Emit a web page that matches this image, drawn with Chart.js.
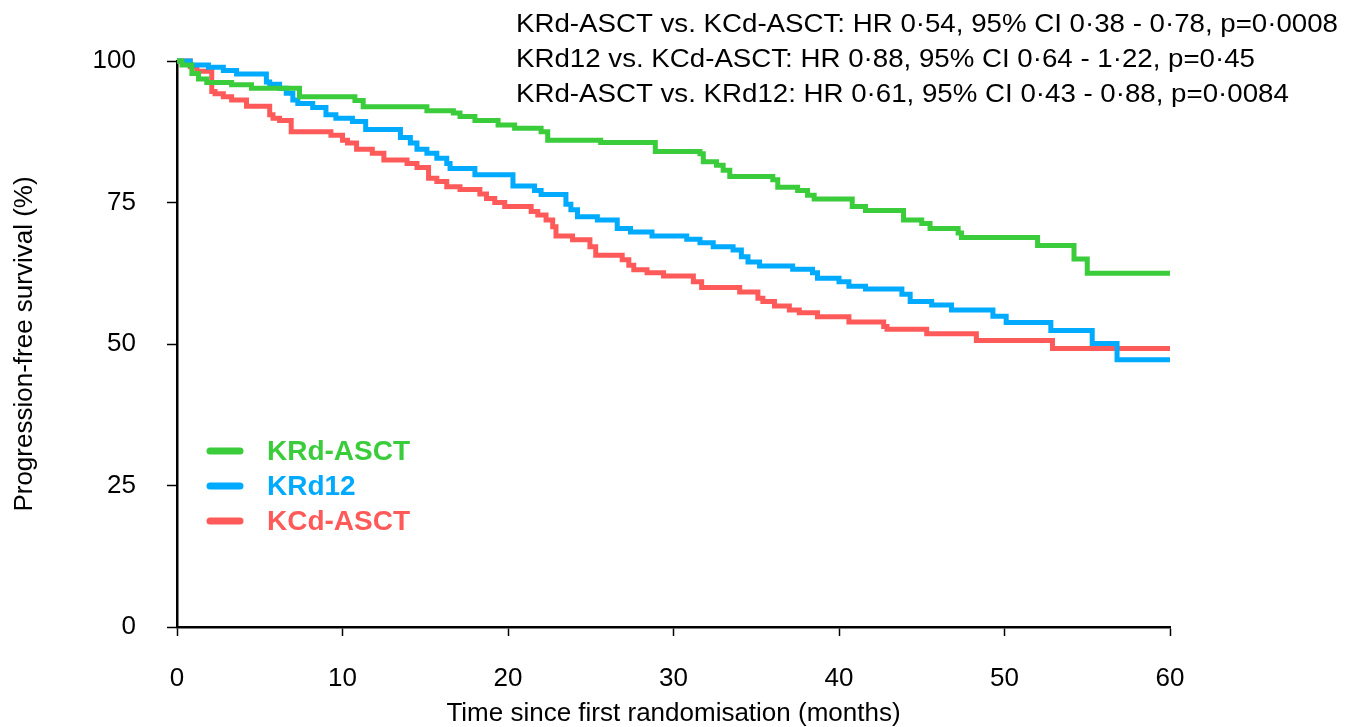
<!DOCTYPE html>
<html>
<head>
<meta charset="utf-8">
<script src="https://cdn.jsdelivr.net/npm/chart.js@4/dist/chart.umd.min.js"></script>
<style>
  html, body { margin: 0; padding: 0; background: #fff; }
  #wrap { width: 1348px; height: 727px; position: relative; }
</style>
</head>
<body>
<div id="wrap"><canvas id="chart-pfs"></canvas></div>
<script>
/* Kaplan-Meier PFS */
const krdAsctMonths = [0, 0.3, 0.9, 1.3, 1.8, 3.3, 4.5, 7.4, 10.75, 11.25, 15.1, 16.7, 17.1, 18.0, 19.4, 20.4, 22.0, 22.4, 25.6, 28.9, 31.6, 31.8, 32.6, 33.0, 33.4, 36.0, 36.3, 37.5, 38.1, 38.5, 40.8, 41.6, 43.9, 45.0, 45.5, 47.2, 47.4, 52.0, 54.2, 55.0, 60];
const krdAsctPfs    = [100, 99.3, 97.8, 96.8, 96.2, 95.8, 95.2, 93.7, 93.0, 91.9, 91.2, 90.8, 90.2, 89.5, 88.7, 88.1, 87.5, 86.0, 85.6, 84.0, 83.6, 82.2, 81.6, 80.7, 79.6, 79.0, 77.7, 77.1, 76.3, 75.6, 74.3, 73.6, 71.9, 71.3, 70.4, 69.6, 68.8, 67.4, 65.0, 62.5, 62.5];

const krd12Months = [0, 0.8, 1.9, 2.8, 3.6, 5.4, 5.6, 6.2, 6.6, 7.0, 7.3, 8.2, 9.0, 9.6, 10.6, 11.4, 13.5, 14.1, 14.5, 15.1, 15.7, 16.3, 16.5, 18.0, 20.3, 21.6, 22.0, 23.5, 23.8, 24.2, 25.4, 26.6, 27.4, 28.7, 30.8, 31.6, 32.4, 33.6, 34.1, 34.5, 35.2, 37.2, 38.4, 38.7, 40.0, 40.6, 41.6, 43.8, 44.3, 45.6, 46.8, 49.3, 50.1, 52.8, 55.3, 56.8, 60];
const krd12Pfs    = [100, 99.3, 98.9, 98.3, 97.7, 96.3, 95.9, 95.2, 94.3, 93.1, 92.5, 91.8, 90.5, 89.9, 89.3, 87.9, 86.5, 85.5, 84.4, 83.7, 82.8, 81.9, 81.0, 79.9, 77.9, 77.1, 76.4, 74.7, 73.7, 72.5, 71.9, 70.4, 69.8, 69.1, 68.5, 67.9, 67.2, 66.6, 65.4, 64.5, 63.8, 63.2, 62.6, 61.6, 61.0, 60.2, 59.7, 58.8, 57.5, 56.9, 56.0, 54.9, 53.8, 52.4, 50.1, 47.2, 47.2];

const kcdAsctMonths = [0, 0.8, 1.2, 2.1, 2.3, 2.8, 3.3, 4.2, 5.6, 5.8, 6.2, 6.9, 9.3, 10.0, 10.3, 10.85, 11.8, 12.5, 13.9, 14.5, 15.2, 15.7, 16.3, 17.1, 18.3, 18.7, 19.2, 19.8, 21.4, 21.8, 22.3, 22.7, 22.9, 23.9, 24.95, 25.3, 26.9, 27.3, 27.6, 28.4, 29.4, 31.2, 31.7, 34.0, 35.1, 35.4, 36.1, 37.0, 37.6, 38.7, 40.6, 42.7, 42.9, 45.3, 48.3, 52.9, 60];
const kcdAsctPfs    = [100, 99.0, 98.2, 94.6, 94.2, 93.7, 93.1, 92.0, 90.5, 89.9, 89.5, 87.5, 86.9, 86.0, 85.5, 84.4, 83.7, 82.5, 81.9, 81.2, 79.3, 78.7, 77.8, 77.3, 76.5, 75.7, 75.0, 74.3, 73.4, 72.8, 71.9, 70.7, 69.1, 68.4, 67.2, 65.7, 64.9, 63.9, 63.1, 62.6, 62.0, 61.0, 60.0, 59.2, 58.1, 57.5, 56.7, 56.0, 55.5, 54.8, 53.9, 53.1, 52.6, 51.8, 50.6, 49.2, 49.2];

const armLabels = ['KRd-ASCT', 'KRd12', 'KCd-ASCT'];
const armColors = ['#3acc3a', '#00aaff', '#ff5a5a'];
const statLines = [
  'KRd-ASCT vs. KCd-ASCT: HR 0·54, 95% CI 0·38 - 0·78, p=0·0008',
  'KRd12 vs. KCd-ASCT: HR 0·88, 95% CI 0·64 - 1·22, p=0·45',
  'KRd-ASCT vs. KRd12: HR 0·61, 95% CI 0·43 - 0·88, p=0·0084',
];

const FONT = '"Liberation Sans", Arial, sans-serif';
const toPoints = (xs, ys) => xs.map((x, i) => ({ x, y: ys[i] }));
const series = [toPoints(krdAsctMonths, krdAsctPfs), toPoints(krd12Months, krd12Pfs), toPoints(kcdAsctMonths, kcdAsctPfs)];

/* Legend + HR-Text selbst zeichnen */
const overlay = {
  id: 'overlay',
  afterDraw(chart) {
    const ctx = chart.ctx;
    ctx.save();
    // legend
    const rows = [451, 486, 521];
    armLabels.forEach((lab, i) => {
      ctx.strokeStyle = armColors[i];
      ctx.lineWidth = 7;
      ctx.lineCap = 'round';
      ctx.beginPath(); ctx.moveTo(210, rows[i]); ctx.lineTo(240, rows[i]); ctx.stroke();
      ctx.fillStyle = armColors[i];
      ctx.font = 'bold 28px ' + FONT;
      ctx.textBaseline = 'middle';
      ctx.textAlign = 'left';
      ctx.fillText(lab, 267, rows[i] + 1);
    });
    // stats text
    ctx.font = '26px ' + FONT;
    ctx.fillStyle = '#000';
    ctx.textBaseline = 'alphabetic';
    const w = ctx.measureText(statLines[0]).width;
    const sx = 822 / w;
    [32, 67, 102].forEach((y, i) => {
      ctx.save();
      ctx.translate(516, y);
      ctx.scale(sx, 1);
      ctx.fillText(statLines[i], 0, 0);
      ctx.restore();
    });
    ctx.restore();
  }
};

new Chart(document.getElementById('chart-pfs'), {
  type: 'line',
  data: {
    datasets: series.map((data, i) => ({
      label: armLabels[i],
      data,
      borderColor: armColors[i],
      backgroundColor: armColors[i],
      borderWidth: 5,
      stepped: 'before',
      pointRadius: 0,
      fill: false,
      clip: false,
    })),
  },
  options: {
    responsive: true,
    maintainAspectRatio: false,
    animation: false,
    layout: { padding: { left: 0, top: 61, right: 178, bottom: 0 } },
    plugins: { legend: { display: false }, tooltip: { enabled: false } },
    scales: {
      x: {
        type: 'linear', min: 0, max: 60,
        afterFit: s => { s.height = 100; },
        ticks: { stepSize: 10, color: '#000', font: { family: FONT, size: 26 }, padding: 27, maxRotation: 0 },
        grid: { drawOnChartArea: false, tickLength: 9, color: '#000', tickWidth: 1.5 },
        border: { color: '#000', width: 2.5 },
        title: { display: true, text: 'Time since first randomisation (months)', color: '#000', font: { family: FONT, size: 26, lineHeight: 1 }, padding: { top: 0, bottom: 0 } },
      },
      y: {
        min: 0, max: 100,
        afterFit: s => { s.width = 177; },
        ticks: { stepSize: 25, color: '#000', font: { family: FONT, size: 26 }, padding: 31 },
        grid: { drawOnChartArea: false, tickLength: 10, color: '#000', tickWidth: 1.5 },
        border: { color: '#000', width: 2.5 },
        title: { display: true, text: 'Progression-free survival (%)', color: '#000', font: { family: FONT, size: 26, lineHeight: 1 }, padding: { top: 12, bottom: 0 } },
      },
    },
  },
  plugins: [overlay],
});
</script>
</body>
</html>
